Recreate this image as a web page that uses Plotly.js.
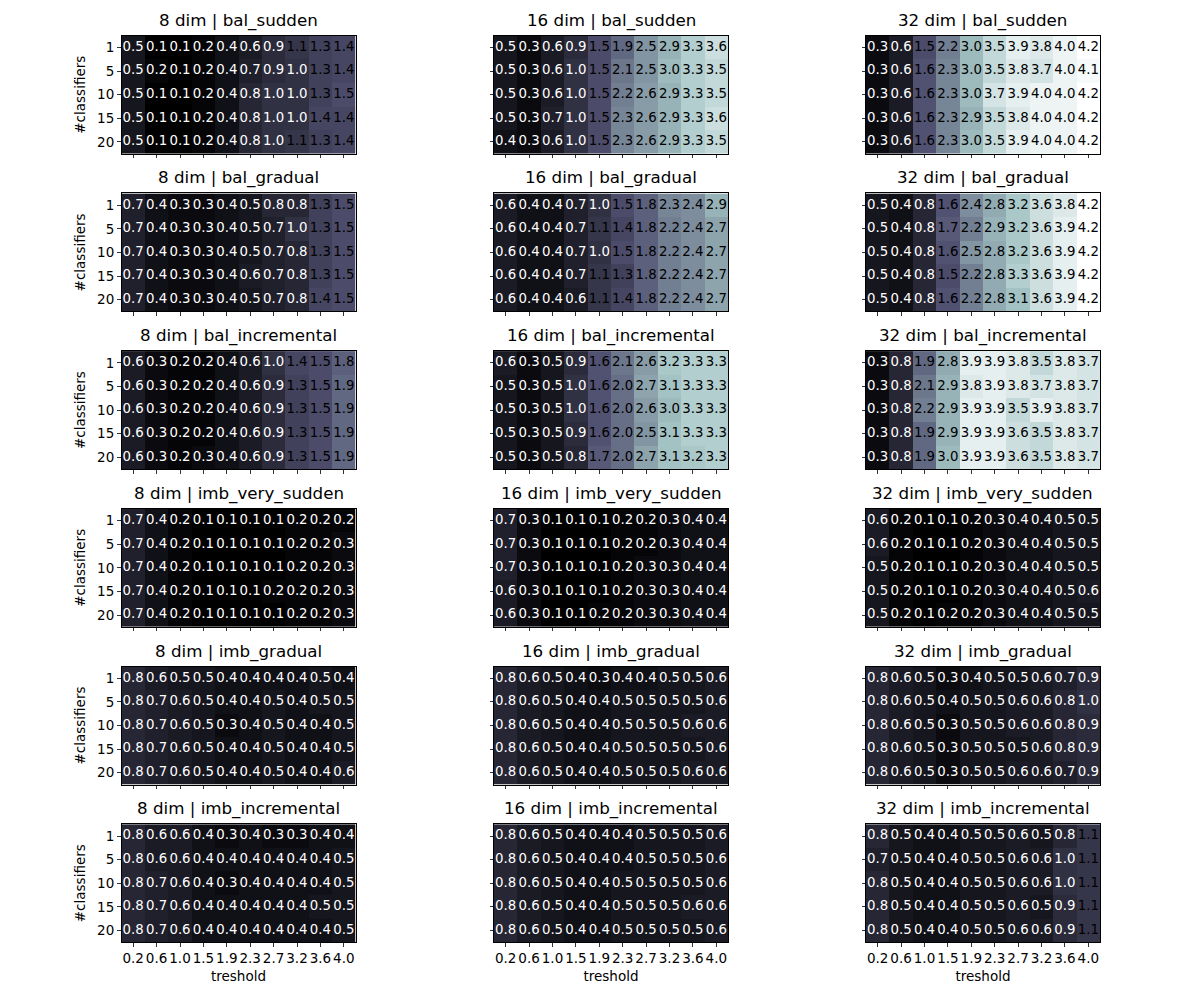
<!DOCTYPE html>
<html>
<head>
<meta charset="utf-8">
<script src="https://cdn.plot.ly/plotly-3.0.1.min.js"></script>
<style>html,body{margin:0;padding:0;background:#fff;}#chart{width:1200px;height:1000px;}</style>
</head>
<body>
<div id="chart"></div>
<script>
const thresholds = ['0.2','0.6','1.0','1.5','1.9','2.3','2.7','3.2','3.6','4.0'];
const classifiers = ['1','5','10','15','20'];
const dims = ['8 dim','16 dim','32 dim'];
const drifts = ['bal_sudden','bal_gradual','bal_incremental','imb_very_sudden','imb_gradual','imb_incremental'];

const dim8_bal_sudden = [
  [0.5,0.1,0.1,0.2,0.4,0.6,0.9,1.1,1.3,1.4],
  [0.5,0.2,0.1,0.2,0.4,0.7,0.9,1.0,1.3,1.4],
  [0.5,0.1,0.1,0.2,0.4,0.8,1.0,1.0,1.3,1.5],
  [0.5,0.1,0.1,0.2,0.4,0.8,1.0,1.0,1.4,1.4],
  [0.5,0.1,0.1,0.2,0.4,0.8,1.0,1.1,1.3,1.4]];
const dim8_bal_gradual = [
  [0.7,0.4,0.3,0.3,0.4,0.5,0.8,0.8,1.3,1.5],
  [0.7,0.4,0.3,0.3,0.4,0.5,0.7,1.0,1.3,1.5],
  [0.7,0.4,0.3,0.3,0.4,0.5,0.7,0.8,1.3,1.5],
  [0.7,0.4,0.3,0.3,0.4,0.6,0.7,0.8,1.3,1.5],
  [0.7,0.4,0.3,0.3,0.4,0.5,0.7,0.8,1.4,1.5]];
const dim8_bal_incremental = [
  [0.6,0.3,0.2,0.2,0.4,0.6,1.0,1.4,1.5,1.8],
  [0.6,0.3,0.2,0.2,0.4,0.6,0.9,1.3,1.5,1.9],
  [0.6,0.3,0.2,0.2,0.4,0.6,0.9,1.3,1.5,1.9],
  [0.6,0.3,0.2,0.2,0.4,0.6,0.9,1.3,1.5,1.9],
  [0.6,0.3,0.2,0.3,0.4,0.6,0.9,1.3,1.5,1.9]];
const dim8_imb_very_sudden = [
  [0.7,0.4,0.2,0.1,0.1,0.1,0.1,0.2,0.2,0.2],
  [0.7,0.4,0.2,0.1,0.1,0.1,0.1,0.2,0.2,0.3],
  [0.7,0.4,0.2,0.1,0.1,0.1,0.1,0.2,0.2,0.3],
  [0.7,0.4,0.2,0.1,0.1,0.1,0.2,0.2,0.2,0.3],
  [0.7,0.4,0.2,0.1,0.1,0.1,0.1,0.2,0.2,0.3]];
const dim8_imb_gradual = [
  [0.8,0.6,0.5,0.5,0.4,0.4,0.4,0.4,0.5,0.4],
  [0.8,0.7,0.6,0.5,0.4,0.4,0.5,0.4,0.5,0.5],
  [0.8,0.7,0.6,0.5,0.3,0.4,0.5,0.4,0.4,0.5],
  [0.8,0.7,0.6,0.5,0.4,0.4,0.5,0.4,0.4,0.5],
  [0.8,0.7,0.6,0.5,0.4,0.4,0.5,0.4,0.4,0.6]];
const dim8_imb_incremental = [
  [0.8,0.6,0.6,0.4,0.3,0.4,0.3,0.3,0.4,0.4],
  [0.8,0.6,0.6,0.4,0.4,0.4,0.4,0.4,0.4,0.5],
  [0.8,0.7,0.6,0.4,0.3,0.4,0.4,0.4,0.4,0.5],
  [0.8,0.7,0.6,0.4,0.4,0.4,0.4,0.4,0.5,0.5],
  [0.8,0.7,0.6,0.4,0.4,0.4,0.4,0.4,0.4,0.5]];

const dim16_bal_sudden = [
  [0.5,0.3,0.6,0.9,1.5,1.9,2.5,2.9,3.3,3.6],
  [0.5,0.3,0.6,1.0,1.5,2.1,2.5,3.0,3.3,3.5],
  [0.5,0.3,0.6,1.0,1.5,2.2,2.6,2.9,3.3,3.5],
  [0.5,0.3,0.7,1.0,1.5,2.3,2.6,2.9,3.3,3.6],
  [0.4,0.3,0.6,1.0,1.5,2.3,2.6,2.9,3.3,3.5]];
const dim16_bal_gradual = [
  [0.6,0.4,0.4,0.7,1.0,1.5,1.8,2.3,2.4,2.9],
  [0.6,0.4,0.4,0.7,1.1,1.4,1.8,2.2,2.4,2.7],
  [0.6,0.4,0.4,0.7,1.0,1.5,1.8,2.2,2.4,2.7],
  [0.6,0.4,0.4,0.7,1.1,1.3,1.8,2.2,2.4,2.7],
  [0.6,0.4,0.4,0.6,1.1,1.4,1.8,2.2,2.4,2.7]];
const dim16_bal_incremental = [
  [0.6,0.3,0.5,0.9,1.6,2.1,2.6,3.2,3.3,3.3],
  [0.5,0.3,0.5,1.0,1.6,2.0,2.7,3.1,3.3,3.3],
  [0.5,0.3,0.5,1.0,1.6,2.0,2.6,3.0,3.3,3.3],
  [0.5,0.3,0.5,0.9,1.6,2.0,2.5,3.1,3.3,3.3],
  [0.5,0.3,0.5,0.8,1.7,2.0,2.7,3.1,3.2,3.3]];
const dim16_imb_very_sudden = [
  [0.7,0.3,0.1,0.1,0.1,0.2,0.2,0.3,0.4,0.4],
  [0.7,0.3,0.1,0.1,0.1,0.2,0.2,0.3,0.4,0.4],
  [0.7,0.3,0.1,0.1,0.1,0.2,0.3,0.3,0.4,0.4],
  [0.6,0.3,0.1,0.1,0.1,0.2,0.3,0.3,0.4,0.4],
  [0.6,0.3,0.1,0.1,0.2,0.2,0.3,0.3,0.4,0.4]];
const dim16_imb_gradual = [
  [0.8,0.6,0.5,0.4,0.3,0.4,0.4,0.5,0.5,0.6],
  [0.8,0.6,0.5,0.4,0.4,0.5,0.5,0.5,0.5,0.6],
  [0.8,0.6,0.5,0.4,0.4,0.5,0.5,0.5,0.6,0.6],
  [0.8,0.6,0.5,0.4,0.4,0.5,0.5,0.5,0.5,0.6],
  [0.8,0.6,0.5,0.4,0.4,0.5,0.5,0.5,0.6,0.6]];
const dim16_imb_incremental = [
  [0.8,0.6,0.5,0.4,0.4,0.4,0.5,0.5,0.5,0.6],
  [0.8,0.6,0.5,0.4,0.4,0.4,0.5,0.5,0.5,0.6],
  [0.8,0.6,0.5,0.4,0.4,0.5,0.5,0.5,0.5,0.6],
  [0.8,0.6,0.5,0.4,0.4,0.5,0.5,0.5,0.6,0.6],
  [0.8,0.6,0.5,0.4,0.4,0.5,0.5,0.5,0.5,0.6]];

const dim32_bal_sudden = [
  [0.3,0.6,1.5,2.2,3.0,3.5,3.9,3.8,4.0,4.2],
  [0.3,0.6,1.6,2.3,3.0,3.5,3.8,3.7,4.0,4.1],
  [0.3,0.6,1.6,2.3,3.0,3.7,3.9,4.0,4.0,4.2],
  [0.3,0.6,1.6,2.3,2.9,3.5,3.8,4.0,4.0,4.2],
  [0.3,0.6,1.6,2.3,3.0,3.5,3.9,4.0,4.0,4.2]];
const dim32_bal_gradual = [
  [0.5,0.4,0.8,1.6,2.4,2.8,3.2,3.6,3.8,4.2],
  [0.5,0.4,0.8,1.7,2.2,2.9,3.2,3.6,3.9,4.2],
  [0.5,0.4,0.8,1.6,2.5,2.8,3.2,3.6,3.9,4.2],
  [0.5,0.4,0.8,1.5,2.2,2.8,3.3,3.6,3.9,4.2],
  [0.5,0.4,0.8,1.6,2.2,2.8,3.1,3.6,3.9,4.2]];
const dim32_bal_incremental = [
  [0.3,0.8,1.9,2.8,3.9,3.9,3.8,3.5,3.8,3.7],
  [0.3,0.8,2.1,2.9,3.8,3.9,3.8,3.7,3.8,3.7],
  [0.3,0.8,2.2,2.9,3.9,3.9,3.5,3.9,3.8,3.7],
  [0.3,0.8,1.9,2.9,3.9,3.9,3.6,3.5,3.8,3.7],
  [0.3,0.8,1.9,3.0,3.9,3.9,3.6,3.5,3.8,3.7]];
const dim32_imb_very_sudden = [
  [0.6,0.2,0.1,0.1,0.2,0.3,0.4,0.4,0.5,0.5],
  [0.6,0.2,0.1,0.1,0.2,0.3,0.4,0.4,0.5,0.5],
  [0.5,0.2,0.1,0.1,0.2,0.3,0.4,0.4,0.5,0.5],
  [0.5,0.2,0.1,0.1,0.2,0.3,0.4,0.4,0.5,0.6],
  [0.5,0.2,0.1,0.2,0.2,0.3,0.4,0.4,0.5,0.5]];
const dim32_imb_gradual = [
  [0.8,0.6,0.5,0.3,0.4,0.5,0.5,0.6,0.7,0.9],
  [0.8,0.6,0.5,0.4,0.5,0.5,0.6,0.6,0.8,1.0],
  [0.8,0.6,0.5,0.3,0.5,0.5,0.6,0.6,0.8,0.9],
  [0.8,0.6,0.5,0.3,0.5,0.5,0.5,0.6,0.8,0.9],
  [0.8,0.6,0.5,0.3,0.5,0.5,0.6,0.6,0.7,0.9]];
const dim32_imb_incremental = [
  [0.8,0.5,0.4,0.4,0.5,0.5,0.6,0.5,0.8,1.1],
  [0.7,0.5,0.4,0.4,0.5,0.5,0.6,0.6,1.0,1.1],
  [0.8,0.5,0.4,0.4,0.5,0.5,0.6,0.6,1.0,1.1],
  [0.8,0.5,0.4,0.4,0.5,0.5,0.6,0.5,0.9,1.1],
  [0.8,0.5,0.4,0.4,0.5,0.5,0.6,0.6,0.9,1.1]];

// grid of panels: rows = drifts, columns = dims
const grid = [
  [dim8_bal_sudden, dim16_bal_sudden, dim32_bal_sudden],
  [dim8_bal_gradual, dim16_bal_gradual, dim32_bal_gradual],
  [dim8_bal_incremental, dim16_bal_incremental, dim32_bal_incremental],
  [dim8_imb_very_sudden, dim16_imb_very_sudden, dim32_imb_very_sudden],
  [dim8_imb_gradual, dim16_imb_gradual, dim32_imb_gradual],
  [dim8_imb_incremental, dim16_imb_incremental, dim32_imb_incremental]
];

// matplotlib "bone" colormap
const bone = [[0,'rgb(0,0,0)'],[0.365079,'rgb(81,81,113)'],[0.746032,'rgb(166,198,198)'],[1,'rgb(255,255,255)']];

let allVals = [];
grid.forEach(row => row.forEach(p => p.forEach(r => r.forEach(v => allVals.push(v)))));
const zmin = Math.min(...allVals), zmax = Math.max(...allVals);

const W = 1200, H = 1000;
const colLeft = [121.5, 494, 866];
const panelW = 234, panelH = 118;
const rowTop0 = 35.7, rowStep = 157.7;
const FONT = 'DejaVu Sans, sans-serif';
const TICK = 13.5, ANN = 13.3, TITLE = 16.7;

const data = [];
const layout = {
  width: W, height: H,
  margin: {l:0, r:0, t:0, b:0},
  paper_bgcolor: '#fff', plot_bgcolor: '#fff',
  showlegend: false,
  font: {family: FONT, color: '#000', size: TICK},
  annotations: []
};

for (let r = 0; r < 6; r++) {
  for (let c = 0; c < 3; c++) {
    const idx = r*3 + c + 1;
    const xa = 'x' + (idx === 1 ? '' : idx), ya = 'y' + (idx === 1 ? '' : idx);
    const xk = 'xaxis' + (idx === 1 ? '' : idx), yk = 'yaxis' + (idx === 1 ? '' : idx);
    const z = grid[r][c];
    data.push({
      type: 'heatmap', x: thresholds, y: classifiers, z: z,
      xaxis: xa, yaxis: ya, colorscale: bone, zmin: zmin, zmax: zmax,
      showscale: false, hoverinfo: 'skip'
    });
    const tx = [], ty = [], tt = [], tc = [];
    for (let i = 0; i < classifiers.length; i++) {
      for (let j = 0; j < thresholds.length; j++) {
        tx.push(thresholds[j]); ty.push(classifiers[i]);
        tt.push(z[i][j].toFixed(1));
        tc.push(z[i][j] >= 1.1 ? '#000' : '#fff');
      }
    }
    data.push({
      type: 'scatter', mode: 'text', x: tx, y: ty, text: tt,
      textposition: 'middle center',
      textfont: {family: FONT, size: ANN, color: tc},
      xaxis: xa, yaxis: ya, hoverinfo: 'skip', cliponaxis: false
    });
    const top = rowTop0 + r*rowStep;
    const x0 = colLeft[c]/W, x1 = (colLeft[c]+panelW)/W;
    const y1 = 1 - top/H, y0 = 1 - (top+panelH)/H;
    layout[xk] = {
      domain: [x0, x1], anchor: ya, type: 'category',
      categoryorder: 'array', categoryarray: thresholds,
      range: [-0.5, thresholds.length - 0.5],
      showline: true, mirror: true, linecolor: '#000', linewidth: 1,
      ticks: 'outside', ticklen: 3.5, tickwidth: 0.8, tickcolor: '#000',
      tickangle: 0,
      showticklabels: r === 5, showgrid: false, zeroline: false,
      tickfont: {family: FONT, size: TICK, color: '#000'},
      fixedrange: true
    };
    if (r === 5) layout[xk].title = {text: 'treshold', font: {family: FONT, size: TICK, color: '#000'}, standoff: 6};
    layout[yk] = {
      domain: [y0, y1], anchor: xa, type: 'category',
      categoryorder: 'array', categoryarray: classifiers,
      range: [classifiers.length - 0.5, -0.5],
      showline: true, mirror: true, linecolor: '#000', linewidth: 1,
      ticks: 'outside', ticklen: 3.5, tickwidth: 0.8, tickcolor: '#000',
      showticklabels: c === 0, showgrid: false, zeroline: false,
      tickfont: {family: FONT, size: TICK, color: '#000'},
      fixedrange: true
    };
    if (c === 0) layout[yk].title = {text: '#classifiers', font: {family: FONT, size: TICK, color: '#000'}, standoff: 8};
    layout.annotations.push({
      xref: 'paper', yref: 'paper', x: (x0 + x1)/2, y: y1,
      xanchor: 'center', yanchor: 'bottom', yshift: 3,
      text: dims[c] + ' | ' + drifts[r], showarrow: false,
      font: {family: FONT, size: TITLE, color: '#000'}
    });
  }
}

Plotly.newPlot('chart', data, layout, {displayModeBar: false, staticPlot: true});
</script>
</body>
</html>
